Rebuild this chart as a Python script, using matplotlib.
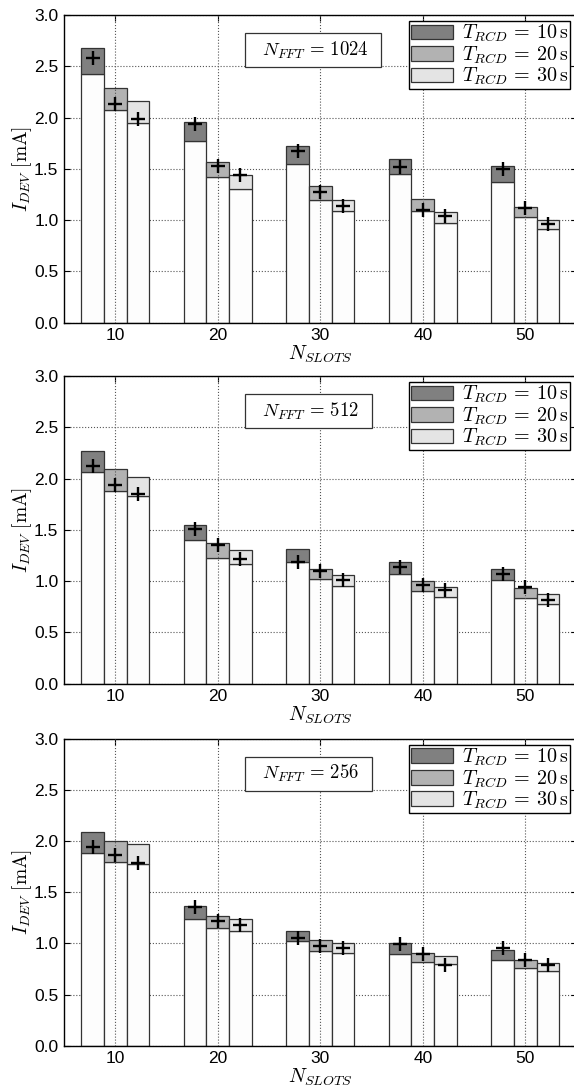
import numpy as np
import matplotlib
matplotlib.use('Agg')
import matplotlib.pyplot as plt

plt.rcParams['font.family'] = ['Liberation Sans', 'DejaVu Sans']
plt.rcParams['mathtext.fontset'] = 'cm'

nslots = [10, 20, 30, 40, 50]
t_rcd = [10, 20, 30]
nfft = [1024, 512, 256]

# bar tops (model, with T_RCD overhead), bar bases (without), measurements
total_1024 = [[2.68, 1.96, 1.72, 1.60, 1.53],
              [2.29, 1.57, 1.33, 1.21, 1.13],
              [2.16, 1.44, 1.20, 1.08, 1.00]]
base_1024 = [[2.42, 1.77, 1.55, 1.45, 1.37],
             [2.07, 1.42, 1.20, 1.09, 1.03],
             [1.95, 1.30, 1.09, 0.97, 0.91]]
meas_1024 = [[2.58, 1.94, 1.67, 1.52, 1.50],
             [2.13, 1.53, 1.27, 1.10, 1.12],
             [1.99, 1.44, 1.14, 1.04, 0.96]]

total_512 = [[2.27, 1.55, 1.31, 1.19, 1.12],
             [2.09, 1.37, 1.12, 1.00, 0.93],
             [2.02, 1.30, 1.06, 0.94, 0.87]]
base_512 = [[2.06, 1.40, 1.19, 1.07, 1.01],
            [1.88, 1.23, 1.02, 0.90, 0.84],
            [1.83, 1.17, 0.95, 0.85, 0.78]]
meas_512 = [[2.12, 1.51, 1.19, 1.14, 1.07],
            [1.94, 1.35, 1.10, 0.96, 0.94],
            [1.85, 1.22, 1.01, 0.91, 0.82]]

total_256 = [[2.09, 1.365, 1.12, 1.00, 0.935],
             [2.00, 1.27, 1.03, 0.91, 0.84],
             [1.97, 1.24, 1.00, 0.88, 0.81]]
base_256 = [[1.885, 1.235, 1.02, 0.90, 0.84],
            [1.80, 1.15, 0.93, 0.82, 0.755],
            [1.78, 1.12, 0.905, 0.80, 0.73]]
meas_256 = [[1.94, 1.355, 1.055, 0.99, 0.95],
            [1.86, 1.22, 0.97, 0.90, 0.84],
            [1.79, 1.18, 0.95, 0.785, 0.785]]

totals = [total_1024, total_512, total_256]
bases = [base_1024, base_512, base_256]
meas = [meas_1024, meas_512, meas_256]

colors = ['#808080', '#b2b2b2', '#e4e4e4']
edge = '#333333'
width = 2.2
offsets = [-2.2, 0.0, 2.2]

W, H = 574, 1086
fig = plt.figure(figsize=(W / 100, H / 100), dpi=100)

ax_px = [(15, 322.7), (376, 683.7), (738.7, 1045.7)]
x = np.array(nslots, dtype=float)

for k in range(3):
    top, bot = ax_px[k]
    ax = fig.add_axes([64 / W, 1 - bot / H, 512.5 / W, (bot - top) / H])

    handles = []
    for j in range(3):
        pos = x + offsets[j]
        b = np.array(bases[k][j])
        t = np.array(totals[k][j])
        ax.bar(pos, b, width, color='#fdfdfd', edgecolor=edge, linewidth=0.9, zorder=2)
        h = ax.bar(pos, t - b, width, bottom=b, color=colors[j], edgecolor=edge,
                   linewidth=0.9, zorder=2,
                   label=r'$T_{RCD}\,=\,%d\,\mathrm{s}$' % t_rcd[j])
        handles.append(h)
        ax.plot(pos, meas[k][j], ls='none', marker='+', ms=10, mew=1.7,
                color='black', zorder=4)

    ax.set_xlim(5, 55)
    ax.set_ylim(0, 3.0)
    ax.set_xticks(nslots)
    ax.set_yticks(np.arange(0, 3.01, 0.5))
    ax.yaxis.set_major_formatter(matplotlib.ticker.FormatStrFormatter('%.1f'))
    ax.tick_params(direction='in', top=True, right=True, labelsize=12.5,
                   length=4, width=0.8, pad=4)

    # horizontal grid behind the bars, vertical grid over them
    ax.set_axisbelow(True)
    ax.yaxis.grid(True, ls=':', color='#555555', lw=0.8)
    for xv in nslots:
        ax.axvline(xv, ls=':', color='#555555', lw=0.8, zorder=3)

    for s in ax.spines.values():
        s.set_linewidth(1.0)

    ax.set_xlabel(r'$N_{SLOTS}$', fontsize=14.5, labelpad=0)
    ax.set_ylabel(r'$I_{DEV}\ [\mathrm{mA}]$', fontsize=14, labelpad=0)

    leg = ax.legend(handles=handles, loc='upper right', fontsize=14.5,
                    fancybox=False, framealpha=1, edgecolor='black',
                    borderpad=0.1, labelspacing=0.0, handlelength=2.1,
                    handleheight=0.75, handletextpad=0.45, borderaxespad=0.3)
    leg.get_frame().set_linewidth(1.0)

    ax.text((252 - 64) / 512.5, 0.886,
            '\u00a0\u00a0$N_{FFT}\\,=\\,%d$\u00a0\u00a0' % nfft[k], transform=ax.transAxes,
            ha='left', va='center', fontsize=13.5, zorder=5,
            bbox=dict(boxstyle='square,pad=0.35', fc='white', ec='#333333', lw=0.9))

fig.savefig('out.png', dpi=100)
